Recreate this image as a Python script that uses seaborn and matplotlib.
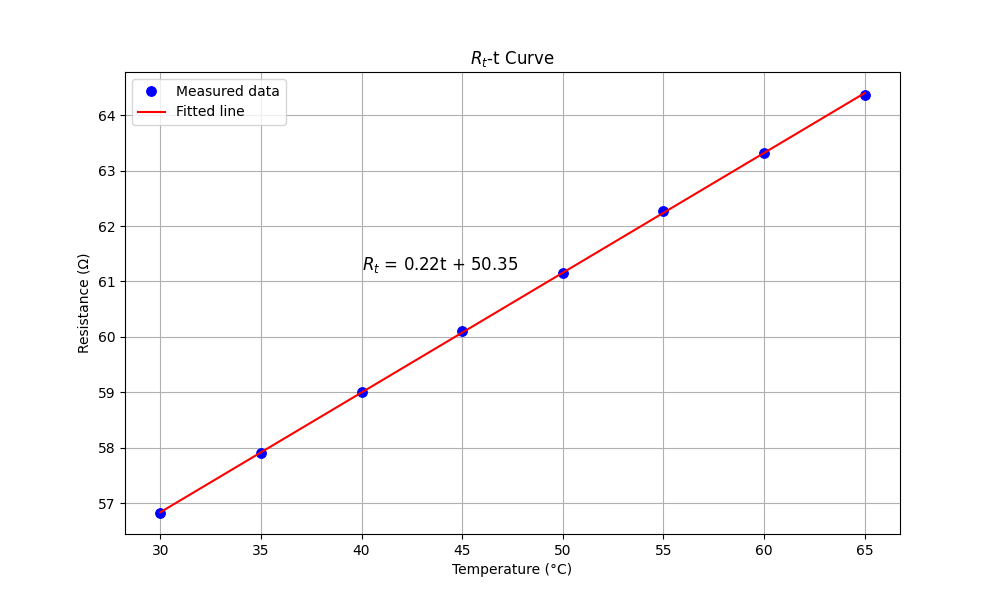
import numpy as np
import matplotlib
matplotlib.use('Agg')
import matplotlib.pyplot as plt
import seaborn as sns

# data
temperature = [30, 35, 40, 45, 50, 55, 60, 65]
resistance = [56.82, 57.90, 59.00, 60.10, 61.15, 62.28, 63.32, 64.37]

slope, intercept = np.polyfit(temperature, resistance, 1)
fitted = [slope * t + intercept for t in temperature]

fig, ax = plt.subplots(figsize=(10, 6), dpi=100)
sns.lineplot(x=temperature, y=resistance, ax=ax, marker='o', linestyle='none',
             color='blue', markersize=7, markeredgecolor='blue', label='Measured data')
sns.lineplot(x=temperature, y=fitted, ax=ax, color='red', label='Fitted line')

ax.text(40, 61.2, r'$R_t$ = 0.22t + 50.35', fontsize=12)
ax.set_title(r'$R_t$-t Curve')
ax.set_xlabel('Temperature (°C)')
ax.set_ylabel('Resistance (Ω)')
ax.grid(True)
ax.legend(loc='upper left')

plt.savefig('out.png')
plt.close()
